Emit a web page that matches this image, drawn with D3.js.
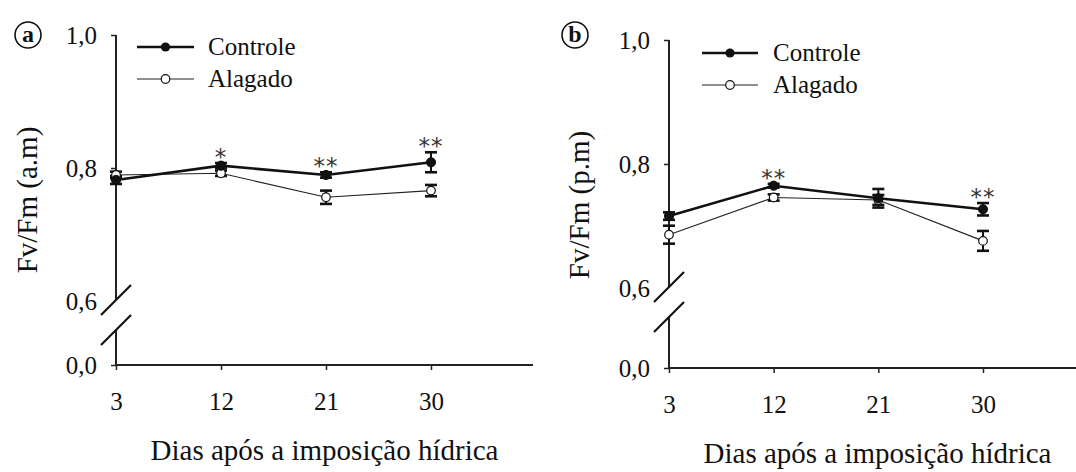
<!DOCTYPE html>
<html>
<head>
<meta charset="utf-8">
<script src="https://cdn.jsdelivr.net/npm/d3@7"></script>
</head>
<body style="margin:0;padding:0;background:#fff">
<svg id="chart" width="1076" height="472" font-family="Liberation Serif" style="display:block"></svg>
<script>
// ---------- data ----------
const days = [3, 12, 21, 30];
const yTicks = [0, 0.6, 0.8, 1.0];

// panel a (morning)
const aControle     = [0.782, 0.8035, 0.7895, 0.8086];
const aControleErr  = [0.006, 0.004, 0.004, 0.015];
const aAlagado      = [0.7895, 0.792, 0.756, 0.766];
const aAlagadoErr   = [0.005, 0.004, 0.010, 0.0085];
const aSignif       = ["", "*", "**", "**"];

// panel b (afternoon)
const bControle     = [0.716, 0.765, 0.7447, 0.727];
const bControleErr  = [0.006, 0.003, 0.015, 0.010];
const bAlagado      = [0.686, 0.746, 0.742, 0.676];
const bAlagadoErr   = [0.0145, 0.005, 0.008, 0.016];
const bSignif       = ["", "**", "", "**"];

const seriesNames = ["Controle", "Alagado"];
const yTitles = ["Fv/Fm (a.m)", "Fv/Fm (p.m)"];
const xTitle = "Dias após a imposição hídrica";
const panelLetters = ["a", "b"];

// ---------- drawing ----------
const FONT = "Liberation Serif";
const svg = d3.select("#chart");
const locale = d3.formatLocale({decimal: ",", thousands: ".", grouping: [3], currency: ["", ""]});
const fmt = locale.format(".1f");
const serifText = sel => sel.attr("font-family", FONT).style("font-family", FONT);

const panels = [
  { letter: panelLetters[0], yTitle: yTitles[0], ctrl: aControle, ctrlErr: aControleErr, alag: aAlagado, alagErr: aAlagadoErr, sig: aSignif,
    x0: 116, x30: 431, xEnd: 533, yBot: 365, y06: 301, yTop: 35,
    leg: {x1: 137, x2: 194, y1: 47, y2: 79, tx: 208},
    circ: {x: 28, y: 35}, yTitlePos: {x: 37, y: 200}, xTitlePos: {y: 460} },
  { letter: panelLetters[1], yTitle: yTitles[1], ctrl: bControle, ctrlErr: bControleErr, alag: bAlagado, alagErr: bAlagadoErr, sig: bSignif,
    x0: 669, x30: 983, xEnd: 1086, yBot: 368, y06: 288, yTop: 40,
    leg: {x1: 702, x2: 758, y1: 53, y2: 85, tx: 773},
    circ: {x: 575, y: 35}, yTitlePos: {x: 589, y: 205}, xTitlePos: {y: 463} }
];

panels.forEach(p => {
  const g = svg.append("g");
  const x = d3.scaleLinear().domain([3, 30]).range([p.x0, p.x30]);
  const y = d3.scaleLinear().domain([0, 0.6, 1.0]).range([p.yBot, p.y06, p.yTop]);

  // x axis
  const xAxis = d3.axisBottom(x).tickValues(days).tickSize(5).tickSizeOuter(0).tickPadding(22)
    .tickFormat(d3.format("d"));
  const gx = g.append("g").attr("transform", `translate(0,${p.yBot})`).call(xAxis);
  gx.attr("font-family", FONT).attr("font-size", 25);
  gx.select(".domain").remove();
  gx.append("line").attr("x1", p.x0).attr("x2", p.xEnd).attr("y1", 0).attr("y2", 0)
    .attr("stroke", "#222").attr("stroke-width", 2);
  gx.selectAll(".tick line").attr("stroke", "#222").attr("stroke-width", 1.5);
  gx.selectAll(".tick text").attr("font-size", 25).attr("fill", "#111").call(serifText);

  // y axis (broken)
  const yAxis = d3.axisLeft(y).tickValues(yTicks).tickSize(5).tickSizeOuter(0).tickPadding(14)
    .tickFormat(fmt);
  const gy = g.append("g").attr("transform", `translate(${p.x0},0)`).call(yAxis);
  gy.attr("font-family", FONT).attr("font-size", 25);
  gy.select(".domain").remove();
  gy.selectAll(".tick").filter(d => d === 0.6).select("line").remove();
  gy.selectAll(".tick line").attr("stroke", "#222").attr("stroke-width", 1.5);
  gy.selectAll(".tick text").attr("font-size", 25).attr("fill", "#111").call(serifText);
  const br1 = p.y06 - 1, br2 = p.y06 + 29;
  gy.append("line").attr("x1", 0).attr("x2", 0).attr("y1", p.yTop).attr("y2", br1)
    .attr("stroke", "#222").attr("stroke-width", 2);
  gy.append("line").attr("x1", 0).attr("x2", 0).attr("y1", br2).attr("y2", p.yBot)
    .attr("stroke", "#222").attr("stroke-width", 2);
  [br1, br2].forEach(by => {
    gy.append("line").attr("x1", -15).attr("y1", by + 15).attr("x2", 15).attr("y2", by - 15)
      .attr("stroke", "#111").attr("stroke-width", 2.2);
  });

  // lines
  const line = d3.line().x((d, i) => x(days[i])).y(d => y(d));
  g.append("path").datum(p.alag).attr("d", line).attr("fill", "none")
    .attr("stroke", "#222").attr("stroke-width", 1.1);
  g.append("path").datum(p.ctrl).attr("d", line).attr("fill", "none")
    .attr("stroke", "#111").attr("stroke-width", 2.6);

  // error bars
  const drawErr = (vals, errs) => {
    vals.forEach((v, i) => {
      const cx = x(days[i]);
      const eg = g.append("g");
      eg.append("line").attr("x1", cx).attr("x2", cx).attr("y1", y(v - errs[i])).attr("y2", y(v + errs[i]))
        .attr("stroke", "#111").attr("stroke-width", 2);
      [v - errs[i], v + errs[i]].forEach(e => {
        eg.append("line").attr("x1", cx - 6).attr("x2", cx + 6).attr("y1", y(e)).attr("y2", y(e))
          .attr("stroke", "#111").attr("stroke-width", 2.6);
      });
    });
  };
  drawErr(p.alag, p.alagErr);
  drawErr(p.ctrl, p.ctrlErr);

  // markers
  g.selectAll(".mAlag").data(p.alag).join("circle").attr("class", "mAlag")
    .attr("cx", (d, i) => x(days[i])).attr("cy", d => y(d)).attr("r", 4.3)
    .attr("fill", "#fff").attr("stroke", "#111").attr("stroke-width", 1.2);
  g.selectAll(".mCtrl").data(p.ctrl).join("circle").attr("class", "mCtrl")
    .attr("cx", (d, i) => x(days[i])).attr("cy", d => y(d)).attr("r", 4.6)
    .attr("fill", "#111").attr("stroke", "#111").attr("stroke-width", 1);

  // significance
  p.sig.forEach((s, i) => {
    if (!s) return;
    const top = Math.max(p.ctrl[i] + p.ctrlErr[i], p.alag[i] + p.alagErr[i]);
    g.append("text").attr("x", x(days[i])).attr("y", y(top) + 2)
      .attr("text-anchor", "middle").attr("font-size", 23).attr("fill", "#333")
      .attr("font-family", "DejaVu Sans").style("font-family", "DejaVu Sans")
      .attr("letter-spacing", 1).text(s);
  });

  // legend
  const L = p.leg;
  g.append("line").attr("x1", L.x1).attr("x2", L.x2).attr("y1", L.y1).attr("y2", L.y1)
    .attr("stroke", "#111").attr("stroke-width", 2.6);
  g.append("circle").attr("cx", (L.x1 + L.x2) / 2).attr("cy", L.y1).attr("r", 4.6).attr("fill", "#111");
  g.append("line").attr("x1", L.x1).attr("x2", L.x2).attr("y1", L.y2).attr("y2", L.y2)
    .attr("stroke", "#222").attr("stroke-width", 1.1);
  g.append("circle").attr("cx", (L.x1 + L.x2) / 2).attr("cy", L.y2).attr("r", 4.3)
    .attr("fill", "#fff").attr("stroke", "#111").attr("stroke-width", 1.2);
  g.append("text").attr("x", L.tx).attr("y", L.y1 + 8).attr("font-size", 25).attr("fill", "#111")
    .call(serifText).text(seriesNames[0]);
  g.append("text").attr("x", L.tx).attr("y", L.y2 + 8).attr("font-size", 25).attr("fill", "#111")
    .call(serifText).text(seriesNames[1]);

  // panel letter
  g.append("circle").attr("cx", p.circ.x).attr("cy", p.circ.y).attr("r", 13)
    .attr("fill", "none").attr("stroke", "#111").attr("stroke-width", 1.6);
  g.append("text").attr("x", p.circ.x).attr("y", p.circ.y + 7).attr("text-anchor", "middle")
    .attr("font-size", 24).attr("font-weight", "bold").attr("fill", "#111")
    .call(serifText).text(p.letter);

  // titles
  g.append("text").attr("transform", `translate(${p.yTitlePos.x},${p.yTitlePos.y}) rotate(-90)`)
    .attr("text-anchor", "middle").attr("font-size", 29).attr("fill", "#111")
    .call(serifText).text(p.yTitle);
  g.append("text").attr("x", (p.x0 + p.xEnd) / 2).attr("y", p.xTitlePos.y)
    .attr("text-anchor", "middle").attr("font-size", 29).attr("fill", "#111")
    .call(serifText).text(xTitle);
});
</script>
</body>
</html>
